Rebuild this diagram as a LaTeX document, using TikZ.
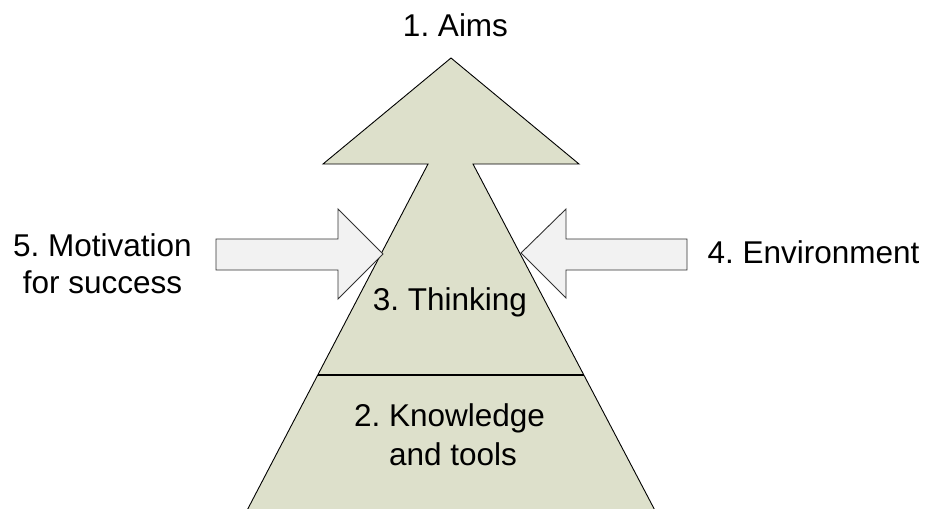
\documentclass[tikz,border=0pt]{standalone}
\usepackage{fontspec}
\setmainfont{Liberation Sans}
\frenchspacing
\definecolor{olivefill}{RGB}{221,224,203}
\definecolor{pushfill}{RGB}{242,242,242}
\definecolor{pushline}{RGB}{50,50,50}
\begin{document}
\begin{tikzpicture}[x=1pt,y=-1pt,
  label/.style={anchor=base,inner sep=0pt,font=\fontsize{31.5}{38}\selectfont},
  bigshape/.style={fill=olivefill,draw=black,line width=0.9pt,line join=miter},
  pusharrow/.style={fill=pushfill,draw=pushline,line width=0.9pt,line join=miter}]
\useasboundingbox (0,0) rectangle (925,508);
\clip (0,0) rectangle (925,508);

% main upward arrow (pyramid with arrow head)
\fill[olivefill] (242,520) -- (428,164) -- (323,164) -- (451,58) -- (579,164) -- (473,164) -- (660,520) -- cycle;
\draw[bigshape,fill=none] (242,520) -- (428,164) -- (323,164) -- (451,58) -- (579,164) -- (473,164) -- (660,520);

% divider between levels
\draw[line width=2.6pt] (317.6,375) -- (584,375);

% side arrows pushing inwards
\draw[pusharrow] (216,239) -- (338,239) -- (338,209) -- (383,254) -- (338,299) -- (338,270) -- (216,270) -- cycle;
\draw[pusharrow] (687,239) -- (566,239) -- (566,209) -- (521,253) -- (566,298) -- (566,270) -- (687,270) -- cycle;

% labels
\node[label] (aims) at (455.5,37) {1. Aims};
\node[label] (motiv1) at (102.5,256) {5. Motivation};
\node[label] (motiv2) at (102.5,293) {for success};
\node[label] (env) at (813.5,263) {4. Environment};
\node[label] (think) at (450,310) {3. Thinking};
\node[label] (know1) at (449.5,426) {2. Knowledge};
\node[label] (know2) at (453,465) {and tools};
\end{tikzpicture}
\end{document}
